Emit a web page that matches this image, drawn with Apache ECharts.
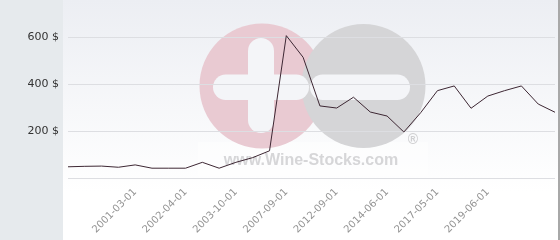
<!DOCTYPE html>
<html>
<head>
<meta charset="utf-8">
<script src="https://cdn.jsdelivr.net/npm/echarts@6/dist/echarts.min.js"></script>
<style>html,body{margin:0;padding:0;background:#fff}#c{width:560px;height:240px}</style>
</head>
<body>
<div id="c"></div>
<script>
// Tick labels (only labelled categories carry text)
var tickLabels = ['', '', '', '', '2001-03-01', '', '', '2002-04-01', '', '', '2003-10-01', '', '', '2007-09-01', '', '', '2012-09-01', '', '', '2014-06-01', '', '', '2017-05-01', '', '', '2019-06-01', '', '', '', ''];
// Price values ($)
var prices = [49, 51, 52, 47, 57, 43, 43, 43, 68, 43, 68, 88, 117, 607, 515, 308, 299, 345, 282, 265, 197, 279, 373, 393, 298, 350, 373, 393, 316, 281];
var yTicks = [0, 200, 400, 600];

var chart = echarts.init(document.getElementById('c'), null, {renderer: 'canvas'});
chart.setOption({
  animation: false,
  graphic: [
    {type: 'rect', z: -20, shape: {x: 0, y: 0, width: 63, height: 240}, style: {fill: '#e6eaed'}},
    {type: 'rect', z: -20, shape: {x: 63, y: 0, width: 495, height: 240},
      style: {fill: new echarts.graphic.LinearGradient(0, 0, 0, 1, [{offset: 0, color: '#eceef3'}, {offset: 0.8, color: '#ffffff'}, {offset: 1, color: '#ffffff'}])}},
    {type: 'rect', z: -20, shape: {x: 558, y: 0, width: 2, height: 240}, style: {fill: '#a8a8a8'}},
    {type: 'rect', z: -19, shape: {x: 198, y: 142, width: 230, height: 34}, style: {fill: 'rgba(255,255,255,0.45)'}},
    {type: 'circle', z: -18, shape: {cx: 262, cy: 86, r: 62.5}, style: {fill: '#e9cad2'}},
    {type: 'circle', z: -17, shape: {cx: 363.5, cy: 86, r: 62}, style: {fill: '#d5d5d7'}},
    {type: 'rect', z: -16, shape: {x: 248, y: 38, width: 26, height: 95, r: 13}, style: {fill: '#f4f5f8'}},
    {type: 'rect', z: -16, shape: {x: 213, y: 74.5, width: 96, height: 25.5, r: 12.7}, style: {fill: '#f4f5f8'}},
    {type: 'rect', z: -16, shape: {x: 310, y: 74.5, width: 100, height: 25.5, r: 12.7}, style: {fill: '#f4f5f8'}},
    {type: 'text', z: -15, style: {x: 311, y: 161, text: 'www.Wine-Stocks.com', fill: '#d6d6d8', font: 'bold 16px "Liberation Sans", Arial, sans-serif', textAlign: 'center', textVerticalAlign: 'middle'}},
    {type: 'text', z: -15, style: {x: 413, y: 140, text: '®', fill: '#d0d0d2', font: 'bold 14px "Liberation Sans", Arial, sans-serif', textAlign: 'center', textVerticalAlign: 'middle'}}
  ],
  grid: {left: 68, right: 5, top: 37.3, bottom: 61.7, containLabel: false},
  xAxis: {
    type: 'category',
    data: tickLabels,
    boundaryGap: false,
    axisLine: {show: false},
    axisTick: {show: false},
    splitLine: {show: false},
    axisLabel: {interval: 0, rotate: 45, margin: 12, color: '#939393', fontSize: 10, fontFamily: '"DejaVu Sans", Verdana, sans-serif'}
  },
  yAxis: {
    type: 'value',
    min: yTicks[0],
    max: yTicks[yTicks.length - 1],
    interval: 200,
    axisLine: {show: false},
    axisTick: {show: false},
    splitLine: {lineStyle: {color: '#dddee2', width: 1}},
    axisLabel: {
      margin: 9,
      color: '#333',
      fontSize: 11,
      fontFamily: '"DejaVu Sans", Verdana, sans-serif',
      formatter: function (v) { return v === 0 ? '' : v + ' $'; }
    }
  },
  series: [{
    type: 'line',
    data: prices,
    symbol: 'none',
    clip: false,
    z: 5,
    lineStyle: {color: '#3d2733', width: 1}
  }]
});
</script>
</body>
</html>
